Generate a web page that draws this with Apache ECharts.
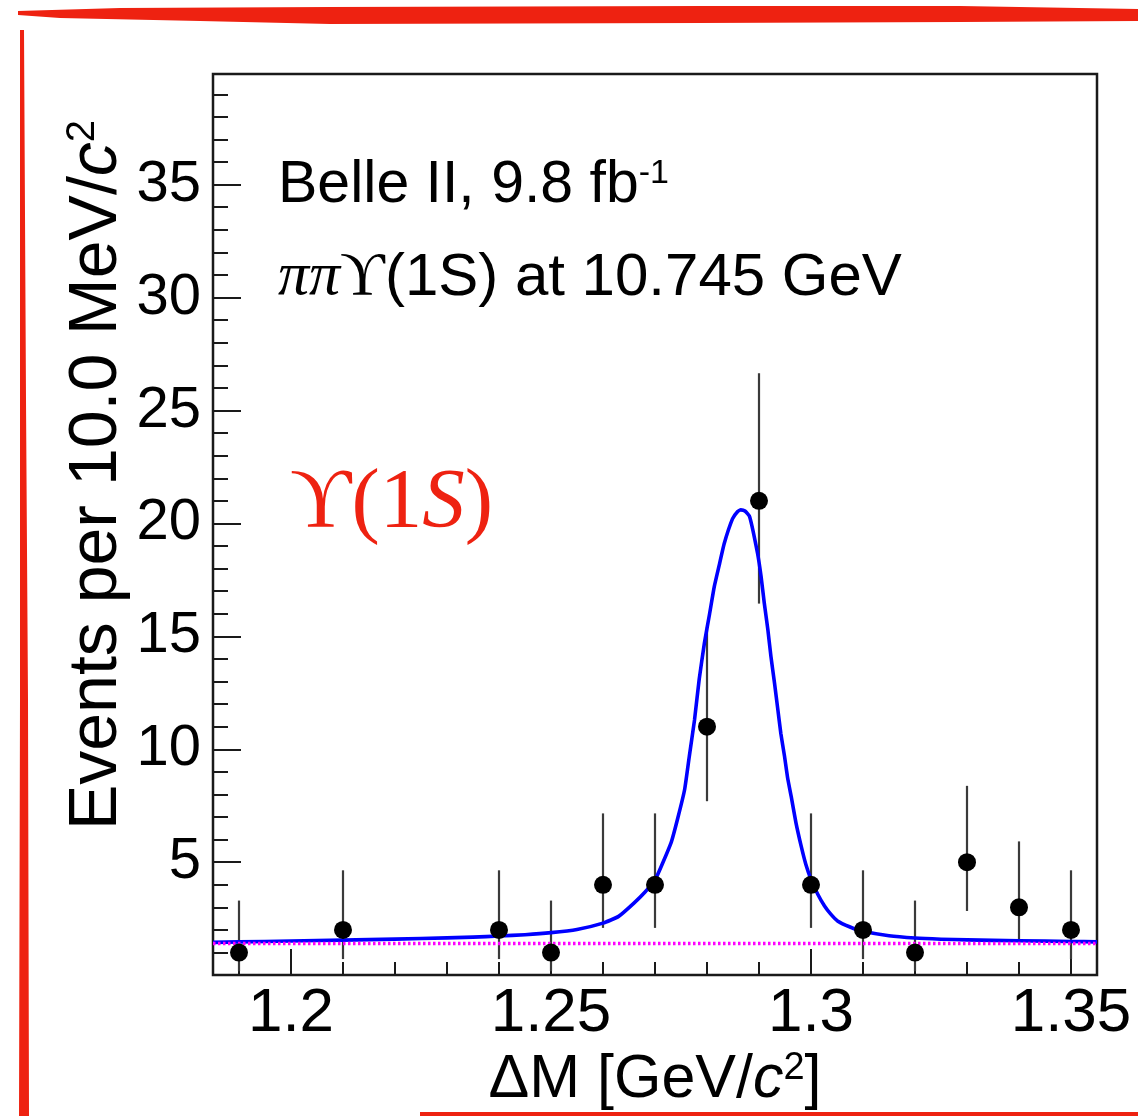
<!DOCTYPE html>
<html>
<head>
<meta charset="utf-8">
<script src="https://cdn.jsdelivr.net/npm/echarts@6.0.0/dist/echarts.min.js"></script>
<style>
  html, body { margin: 0; padding: 0; background: #fff; }
  #chart { width: 1138px; height: 1116px; }
</style>
</head>
<body>
<div id="chart"></div>
<script>
/* Belle II pi pi Upsilon(1S) delta-M spectrum, ROOT style */

// data
const binCenters  = [1.19, 1.21, 1.24, 1.25, 1.26, 1.27, 1.28, 1.29, 1.30, 1.31, 1.32, 1.33, 1.34, 1.35];
const eventCounts = [1, 2, 2, 1, 4, 4, 11, 21, 4, 2, 1, 5, 3, 2];
const errLow      = [0.83, 1.29, 1.29, 0.83, 1.91, 1.91, 3.30, 4.55, 1.91, 1.29, 0.83, 2.16, 1.63, 1.29];
const errHigh     = [2.30, 2.64, 2.64, 2.30, 3.16, 3.16, 4.42, 5.65, 3.16, 2.64, 2.30, 3.38, 2.92, 2.64];

// total fit (blue), sampled along the drawn curve
const fitX = [1.185, 1.195, 1.205, 1.215, 1.225, 1.235, 1.240, 1.245, 1.250, 1.255, 1.260, 1.263, 1.266,
              1.268, 1.270, 1.2731, 1.2744, 1.2757, 1.2766, 1.2776, 1.2785, 1.2795, 1.2805, 1.2814, 1.2824,
              1.2833, 1.2849, 1.2859, 1.2865, 1.2873, 1.2882, 1.2897, 1.2904, 1.2910, 1.2917, 1.2923, 1.2930,
              1.2936, 1.2942, 1.2949, 1.2955, 1.2962, 1.2971, 1.2981, 1.2990, 1.300, 1.3013, 1.3026, 1.3038,
              1.3051, 1.3074, 1.3096, 1.315, 1.320, 1.325, 1.330, 1.340, 1.350, 1.355];
const fitY = [1.45, 1.49, 1.53, 1.57, 1.62, 1.68, 1.73, 1.79, 1.88, 2.02, 2.30, 2.60, 3.20,
              3.66, 4.20, 5.87, 6.97, 8.22, 9.69, 11.3, 13.1, 14.7, 16.0, 17.2, 18.2,
              19.1, 20.2, 20.53, 20.6, 20.55, 20.3, 18.7, 17.65, 16.5, 15.3, 14.1, 12.9,
              11.8, 10.7, 9.7, 8.74, 7.9, 6.75, 5.72, 4.91, 4.24, 3.58, 3.06, 2.70,
              2.40, 2.14, 1.96, 1.74, 1.64, 1.59, 1.56, 1.52, 1.49, 1.47];

// background component (magenta dotted)
const bkgX = [1.185, 1.355];
const bkgY = [1.40, 1.40];

// axis ticks
const xMajorTicks = [1.2, 1.25, 1.3, 1.35];
const xMinorTicks = [1.19, 1.21, 1.22, 1.23, 1.24, 1.26, 1.27, 1.28, 1.29, 1.31, 1.32, 1.33, 1.34];
const yMajorTicks = [5, 10, 15, 20, 25, 30, 35];
const yMinorTicks = [1, 2, 3, 4, 6, 7, 8, 9, 11, 12, 13, 14, 16, 17, 18, 19, 21, 22, 23, 24,
                     26, 27, 28, 29, 31, 32, 33, 34, 36, 37, 38, 39];

const FONT = "'Liberation Sans', Arial, Helvetica, sans-serif";
const SERIF = "'Liberation Serif', 'DejaVu Serif', 'Times New Roman', serif";
const RED = '#ee2211';
const FRAME = '#1a1a1a';

const X_MIN = 1.185, X_MAX = 1.355, Y_MIN = 0, Y_MAX = 39.9;

const points = binCenters.map((x, i) => [x, eventCounts[i]]);
const errBars = binCenters.map((x, i) => [x, eventCounts[i], errLow[i], errHigh[i]]);
const fitLine = fitX.map((x, i) => [x, fitY[i]]);
const bkgLine = bkgX.map((x, i) => [x, bkgY[i]]);

function xAxisBase(extra) {
  return Object.assign({
    type: 'value', min: X_MIN, max: X_MAX, position: 'bottom',
    splitLine: { show: false },
    axisLine: { show: false }
  }, extra);
}
function yAxisBase(extra) {
  return Object.assign({
    type: 'value', min: Y_MIN, max: Y_MAX, position: 'left',
    splitLine: { show: false },
    axisLine: { show: false }
  }, extra);
}

const chart = echarts.init(document.getElementById('chart'), null, { renderer: 'canvas' });

chart.setOption({
  animation: false,
  backgroundColor: '#fff',
  grid: {
    left: 213, right: 41, top: 74, bottom: 140,
    show: true, borderColor: FRAME, borderWidth: 2.5, backgroundColor: 'transparent'
  },
  xAxis: [
    xAxisBase({
      name: 'ΔM [GeV/{it|c}{sup|2}]',
      nameLocation: 'middle',
      nameGap: 52,
      nameTextStyle: {
        fontFamily: FONT, fontSize: 61, color: '#000',
        rich: {
          it: { fontFamily: FONT, fontSize: 61, fontStyle: 'italic', color: '#000' },
          sup: { fontFamily: FONT, fontSize: 38, color: '#000', verticalAlign: 'top', padding: [0, 0, 18, 0] }
        }
      },
      axisTick: { show: true, inside: true, length: 26, customValues: xMajorTicks, lineStyle: { color: FRAME, width: 2 } },
      axisLabel: { show: true, customValues: xMajorTicks, margin: 8, fontFamily: FONT, fontSize: 62, color: '#000' }
    }),
    xAxisBase({
      axisTick: { show: true, inside: true, length: 13, customValues: xMinorTicks, lineStyle: { color: FRAME, width: 2 } },
      axisLabel: { show: false }
    })
  ],
  yAxis: [
    yAxisBase({
      axisTick: { show: true, inside: true, length: 28, customValues: yMajorTicks, lineStyle: { color: FRAME, width: 2 } },
      axisLabel: { show: true, customValues: yMajorTicks, margin: 12, fontFamily: FONT, fontSize: 58, color: '#000' }
    }),
    yAxisBase({
      axisTick: { show: true, inside: true, length: 15, customValues: yMinorTicks, lineStyle: { color: FRAME, width: 2 } },
      axisLabel: { show: false }
    })
  ],
  graphic: [
    // hand-drawn red frame
    { type: 'polygon', silent: true, z: 100,
      shape: { points: [[18, 11], [120, 8], [330, 7], [700, 6], [960, 6], [1138, 9], [1138, 21],
                        [960, 22], [700, 23], [330, 24], [200, 21], [60, 18], [18, 15]] },
      style: { fill: RED } },
    { type: 'polygon', silent: true, z: 100,
      shape: { points: [[20, 30], [24, 30], [26, 400], [28, 700], [29, 1116], [19, 1116], [20, 700], [20, 400]] },
      style: { fill: RED } },
    { type: 'rect', silent: true, z: 100,
      shape: { x: 420, y: 1112, width: 718, height: 4 },
      style: { fill: RED } },
    // y axis title
    { type: 'text', silent: true, z: 50,
      x: 97, y: 475, rotation: Math.PI / 2,
      style: {
        text: 'Events per 10.0 MeV/{it|c}{sup|2}',
        font: '68px ' + FONT, fill: '#000', align: 'center', verticalAlign: 'middle',
        rich: {
          it: { fontFamily: FONT, fontSize: 68, fontStyle: 'italic', fill: '#000' },
          sup: { fontFamily: FONT, fontSize: 40, fill: '#000', verticalAlign: 'top', padding: [0, 0, 20, 0] }
        }
      } },
    // plot labels
    { type: 'text', silent: true, z: 50,
      x: 278, y: 186,
      style: {
        text: 'Belle II, 9.8 fb{sup|-1}',
        font: '59px ' + FONT, fill: '#000', align: 'left', verticalAlign: 'middle',
        rich: {
          sup: { fontFamily: FONT, fontSize: 34, fill: '#000', verticalAlign: 'top', padding: [0, 0, 20, 0] }
        }
      } },
    { type: 'text', silent: true, z: 50,
      x: 278, y: 278,
      style: {
        text: '{pi|ππ}{ups|ϒ}(1S) at 10.745 GeV',
        font: '60px ' + FONT, fill: '#000', align: 'left', verticalAlign: 'middle',
        rich: {
          pi: { fontFamily: SERIF, fontSize: 62, fontStyle: 'italic', fill: '#000' },
          ups: { fontFamily: SERIF, fontSize: 62, fill: '#000' }
        }
      } },
    { type: 'text', silent: true, z: 50,
      x: 290, y: 505,
      style: {
        text: 'ϒ(1{it|S})',
        font: '85px ' + SERIF, fill: RED, align: 'left', verticalAlign: 'middle',
        rich: {
          it: { fontFamily: SERIF, fontSize: 85, fontStyle: 'italic', fill: RED }
        }
      } }
  ],
  series: [
    {
      name: 'errors', type: 'custom', xAxisIndex: 0, yAxisIndex: 0, z: 2,
      data: errBars,
      renderItem: function (params, api) {
        const x = api.value(0), y = api.value(1);
        const lo = api.coord([x, Math.max(Y_MIN, y - api.value(2))]);
        const hi = api.coord([x, y + api.value(3)]);
        return {
          type: 'line',
          shape: { x1: lo[0], y1: lo[1], x2: hi[0], y2: hi[1] },
          style: { stroke: '#3a3a3a', lineWidth: 2.2 }
        };
      }
    },
    {
      name: 'fit', type: 'line', xAxisIndex: 0, yAxisIndex: 0, z: 3,
      data: fitLine, showSymbol: false, smooth: 0.15,
      lineStyle: { color: '#0000ff', width: 3.6, join: 'round' }
    },
    {
      name: 'background', type: 'line', xAxisIndex: 0, yAxisIndex: 0, z: 4,
      data: bkgLine, showSymbol: false,
      lineStyle: { color: '#ff00ff', width: 3.5, type: [2.5, 2.5] }
    },
    {
      name: 'data', type: 'scatter', xAxisIndex: 0, yAxisIndex: 0, z: 5,
      data: points, symbol: 'circle', symbolSize: 18,
      itemStyle: { color: '#000', opacity: 1 }
    }
  ]
});
</script>
</body>
</html>
